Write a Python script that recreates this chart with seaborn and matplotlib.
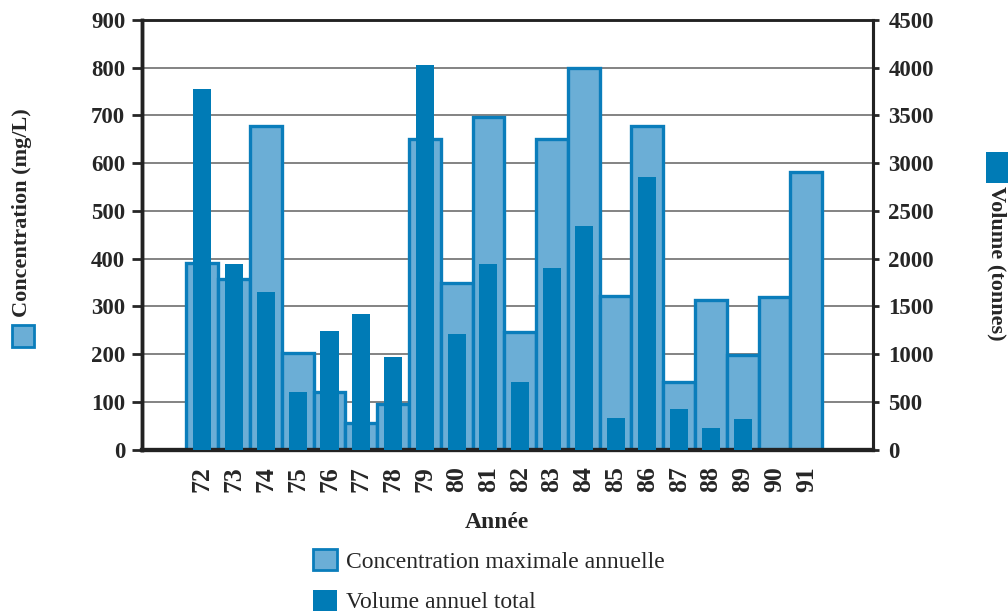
import matplotlib
matplotlib.use('Agg')
import matplotlib.pyplot as plt
from matplotlib.patches import Patch, Rectangle
import seaborn as sns
import numpy as np
import pandas as pd

# Données
annees = ['72', '73', '74', '75', '76', '77', '78', '79', '80', '81',
          '82', '83', '84', '85', '86', '87', '88', '89', '90', '91']
concentration = [391, 357, 678, 202, 120, 55, 95, 651, 349, 697,
                 246, 651, 800, 322, 678, 142, 313, 198, 320, 582]
volume = [3780, 1944, 1651, 603, 1242, 1420, 970, 4030, 1211, 1944,
          708, 1903, 2343, 330, 2856, 425, 225, 320, np.nan, np.nan]

conc_ticks = [0, 100, 200, 300, 400, 500, 600, 700, 800, 900]
vol_ticks = [0, 500, 1000, 1500, 2000, 2500, 3000, 3500, 4000, 4500]

bleu_clair = '#6baed6'
bleu_fonce = '#007bb6'
bord = '#0a7dbb'

df = pd.DataFrame({'annee': annees, 'concentration': concentration, 'volume': volume})

sns.set_style("white")
plt.rcParams['font.family'] = ['Liberation Serif', 'DejaVu Serif']

fig = plt.figure(figsize=(10.08, 6.15), dpi=100)
ax = fig.add_axes([142 / 1008, 1 - 449.5 / 615, (873 - 142) / 1008, (449.5 - 20) / 615])

# barres concentration (axe gauche)
sns.barplot(data=df, x='annee', y='concentration', order=annees, ax=ax,
            color=bleu_clair, edgecolor=bord, linewidth=2.4, width=1.0,
            saturation=1, errorbar=None, zorder=2)

# barres volume (axe droit)
ax2 = ax.twinx()
sns.barplot(data=df, x='annee', y='volume', order=annees, ax=ax2,
            color=bleu_fonce, linewidth=0, width=0.57,
            saturation=1, errorbar=None, zorder=3)

ax.set_xlim(-1.9, 21.1)
ax.set_ylim(0, 900)
ax2.set_ylim(0, 4500)
ax.set_yticks(conc_ticks)
ax2.set_yticks(vol_ticks)

# grille horizontale derrière les barres
ax.set_axisbelow(True)
ax.yaxis.grid(True, color='#7a7a7a', linewidth=1.3)
ax.xaxis.grid(False)

ax.set_xlabel('')
ax.set_ylabel('')
ax2.set_xlabel('')
ax2.set_ylabel('')

ax.set_xticks(range(len(annees)))
ax.set_xticklabels(annees, rotation=90, fontsize=18.5, fontweight='bold')
ax.tick_params(axis='x', length=0, pad=12)
ax.tick_params(axis='y', direction='out', length=7, width=2, pad=5,
               labelsize=16.5, left=True)
ax2.tick_params(axis='y', direction='out', length=4, width=2, pad=7,
                labelsize=16.5, right=True)
for lab in ax.get_yticklabels() + ax2.get_yticklabels():
    lab.set_fontweight('bold')

for a in (ax, ax2):
    for s in a.spines.values():
        s.set_color('#222222')
    a.spines['left'].set_linewidth(2.5)
    a.spines['right'].set_linewidth(2.2)
    a.spines['bottom'].set_linewidth(3)
    a.spines['top'].set_linewidth(1.8)

# titres des axes avec petits carrés
fig.text(497 / 1008, 1 - 522 / 615, 'Année', ha='center', va='center',
         fontsize=17, fontweight='bold')
fig.text(22 / 1008, 1 - 317 / 615, 'Concentration (mg/L)', rotation=90,
         ha='center', va='bottom', fontsize=16, fontweight='bold')
fig.patches.append(Rectangle((12 / 1008, 1 - 347 / 615), 22 / 1008, 22 / 615,
                             transform=fig.transFigure, facecolor=bleu_clair,
                             edgecolor=bord, linewidth=2))
fig.text(997 / 1008, 1 - 186 / 615, 'Volume (tonnes)', rotation=-90,
         ha='center', va='top', fontsize=16, fontweight='bold')
fig.patches.append(Rectangle((986 / 1008, 1 - 183 / 615), 22 / 1008, 31 / 615,
                             transform=fig.transFigure, facecolor=bleu_fonce,
                             linewidth=0))

# légende en bas
handles = [Patch(facecolor=bleu_clair, edgecolor=bord, linewidth=2,
                 label='Concentration maximale annuelle'),
           Patch(facecolor=bleu_fonce, edgecolor=bleu_fonce, linewidth=0,
                 label='Volume annuel total')]
fig.legend(handles=handles, loc='upper left',
           bbox_to_anchor=(313 / 1008, 1 - 549 / 615), frameon=False,
           fontsize=17, handlelength=1.0, handleheight=1.0, handletextpad=0.4,
           labelspacing=0.72, borderpad=0, borderaxespad=0)

plt.savefig('out.png', dpi=100, facecolor='white')
plt.close()
